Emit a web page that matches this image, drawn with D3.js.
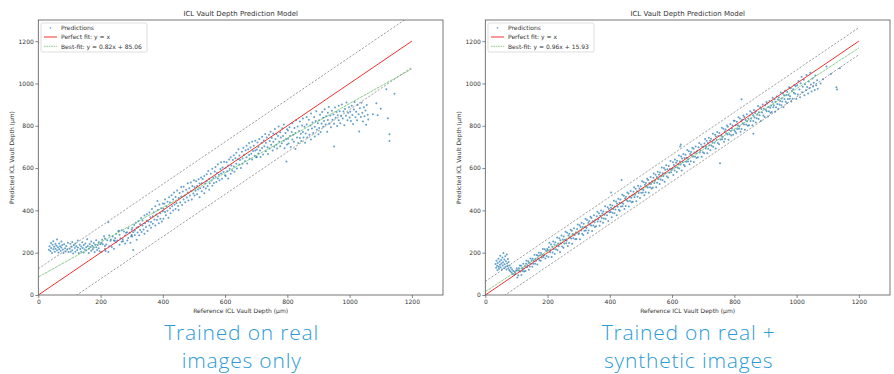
<!DOCTYPE html>
<html>
<head>
<meta charset="utf-8">
<script src="https://cdn.jsdelivr.net/npm/d3@7"></script>
<style>
  body { margin: 0; background: #fff; }
  svg { display: block; }
</style>
</head>
<body>
<svg id="chart" width="894" height="374"></svg>
<script>
// ---- data ----
const xTicks = [0, 200, 400, 600, 800, 1000, 1200];
const yTicks = [0, 200, 400, 600, 800, 1000, 1200];
const panelTitle = "ICL Vault Depth Prediction Model";
const xLabel = "Reference ICL Vault Depth (\u03bcm)";
const yLabel = "Predicted ICL Vault Depth (\u03bcm)";
const legendLabels = ["Predictions", "Perfect fit: y = x", "Best-fit: y = 0.82x + 85.06", "Best-fit: y = 0.96x + 15.93"];
const fitSlope = [0.82, 0.96];
const fitIntercept = [85.06, 15.93];
const bandOffset = [124, 64];   // grey dashed lines: y = x +/- offset
const lineRange = [0, 1200];
const captions = [["Trained on real", "images only"], ["Trained on real +", "synthetic images"]];

// left panel: trained on real images only
const realOnly = [
[34,214],[36,231],[39,208],[41,246],[41,222],[44,199],[46,237],[48,216],[48,254],[51,228],[53,205],[55,241],[55,219],[58,233],[60,212],[60,262],[63,226],[65,201],[67,244],[67,218],[70,230],[72,209],[74,253],[74,224],[77,236],[79,215],[81,198],[83,240],[86,221],[88,206],[90,232],[93,215],[95,247],[97,203],
[101,219],[103,242],[104,204],[107,228],[109,251],[109,212],[112,196],[114,235],[117,222],[119,205],[119,244],[122,230],[125,213],[127,258],[127,225],[130,199],[133,238],[135,217],[138,229],[138,205],[141,249],[143,222],[146,236],[146,201],[149,215],[151,243],[154,226],[154,210],[157,264],[159,232],[162,219],[162,198],[165,241],[167,227],[170,209],[170,253],[173,233],[175,216],[178,246],[178,224],[181,203],[183,238],[186,226],[186,259],[189,213],[191,236],[194,221],[194,249],[197,207],[199,240],
[203,246],[203,203],[207,240],[211,278],[214,232],[214,218],[214,267],[218,239],[221,259],[225,203],[225,344],[228,281],[228,231],[232,257],[236,227],[239,276],[243,258],[243,219],[247,268],[250,290],[250,249],[254,258],[257,301],[261,238],[261,285],[264,268],[268,252],[268,306],[271,264],[275,300],[279,243],[279,281],[282,294],[286,258],[289,315],[289,270],[293,294],[296,247],[300,309],[300,284],[205,261],[216,208],[233,262],[246,257],[259,304],[272,254],[285,297],[298,278],
[302,318],[302,276],[305,297],[305,213],[308,331],[310,284],[310,305],[313,342],[316,261],[316,318],[319,296],[321,349],[321,322],[324,283],[327,335],[327,307],[330,364],[332,298],[335,328],[335,352],[338,310],[341,376],[341,289],[343,339],[346,321],[349,382],[349,352],[351,303],[354,347],[357,390],[357,329],[360,368],[362,318],[362,345],[365,406],[368,372],[368,337],[371,391],[373,357],[376,328],[376,419],[379,381],[381,354],[384,402],[384,371],[387,339],[389,428],[392,387],[392,361],[395,410],[397,348],[400,396],[400,432],[383,444],
[402,408],[402,360],[405,431],[407,392],[407,452],[410,377],[412,419],[415,441],[415,398],[418,365],[420,462],[423,410],[423,437],[425,386],[428,471],[430,419],[433,399],[433,452],[436,484],[438,428],[441,407],[441,463],[444,435],[446,494],[449,421],[451,458],[451,402],[454,482],[456,437],[459,511],[459,466],[462,425],[464,489],[467,452],[467,512],[470,470],[472,438],[475,498],[477,461],[480,528],[480,485],[482,447],[485,505],[487,470],[490,532],[490,491],[493,452],[495,515],[498,480],[500,543],
[502,470],[502,511],[505,493],[507,538],[510,476],[510,515],[513,499],[515,547],[518,462],[518,527],[520,505],[523,556],[525,490],[525,528],[528,548],[531,511],[533,481],[533,562],[536,527],[538,503],[541,571],[541,539],[544,515],[546,586],[549,548],[549,497],[551,528],[554,573],[556,541],[559,516],[559,597],[562,553],[564,530],[567,584],[569,605],[569,560],[572,534],[574,577],[577,551],[577,618],[580,568],[582,542],[585,596],[587,627],[587,574],[590,550],[592,603],[595,581],[597,630],[600,566],
[602,601],[602,563],[605,628],[607,585],[610,612],[610,551],[613,640],[615,597],[618,573],[618,651],[620,612],[623,588],[625,638],[628,661],[628,608],[630,583],[633,647],[636,620],[636,672],[638,598],[641,642],[643,689],[646,617],[646,659],[648,638],[651,600],[654,677],[656,645],[656,620],[659,696],[661,663],[664,632],[666,684],[669,706],[669,651],[671,622],[674,689],[677,662],[677,718],[679,644],[682,697],[684,668],[687,725],[687,640],[690,681],[692,705],[695,658],[697,729],[697,683],[700,651],
[702,688],[702,652],[704,721],[707,669],[707,700],[710,738],[712,683],[714,652],[717,718],[719,695],[719,748],[722,664],[724,730],[726,703],[729,761],[731,680],[731,720],[734,745],[736,698],[738,667],[741,757],[743,728],[743,693],[746,772],[748,710],[750,742],[753,683],[755,764],[755,725],[758,701],[760,785],[762,738],[765,710],[765,761],[767,693],[770,752],[772,796],[774,724],[777,769],[777,703],[779,745],[782,717],[784,788],[786,752],[789,729],[789,806],[791,694],[794,766],[796,738],[797,631],[799,783],[799,712],
[802,739],[802,778],[804,716],[807,793],[809,752],[811,700],[814,771],[816,735],[816,812],[819,758],[821,725],[823,789],[826,690],[826,766],[828,826],[831,744],[833,797],[835,719],[838,775],[840,742],[840,820],[843,762],[845,728],[847,801],[850,834],[850,771],[852,745],[855,795],[857,720],[859,764],[862,842],[862,806],[864,744],[867,781],[869,828],[871,758],[874,801],[876,735],[876,858],[879,787],[881,815],[883,766],[886,842],[888,795],[888,749],[891,823],[893,869],[895,781],[898,812],[900,760],
[902,826],[902,789],[905,852],[907,770],[910,811],[912,865],[915,838],[915,795],[918,822],[920,878],[923,806],[925,845],[928,772],[930,862],[930,827],[933,889],[935,811],[938,848],[940,793],[943,871],[945,829],[948,853],[950,702],[950,810],[953,886],[955,838],[958,865],[960,799],[962,850],[965,895],[965,826],[968,869],[970,812],[973,846],[975,901],[978,834],[980,868],[983,803],[985,879],[988,847],[990,910],[993,826],[995,862],[998,888],[1000,839],
[1002,866],[1004,823],[1007,895],[1009,851],[1011,808],[1014,877],[1016,912],[1019,840],[1021,866],[1024,826],[1026,898],[1029,854],[1031,773],[1033,883],[1036,842],[1038,909],[1041,861],[1043,820],[1046,887],[1048,845],[1051,872],[1053,805],[1055,898],[1058,852],[1060,830],
[1075,855],[1086,907],[1090,850],[1100,880],[1118,973],[1123,836],[1128,760],[1128,728],[1144,951]
];

// right panel: trained on real + synthetic images
const realPlusSynthetic = [
[33,146],[35,129],[36,162],[38,138],[39,117],[40,151],[42,171],[43,134],[44,124],[46,158],[47,143],[48,186],[49,131],[51,165],[52,149],[53,120],[55,177],[56,139],[57,155],[58,198],[60,127],[61,168],[62,145],[64,183],[65,134],[66,159],[68,121],[69,192],[70,149],[71,137],[73,170],[74,126],[75,156],[77,118],[78,140],[80,112],[82,129],[84,106],[86,121],[88,100],[90,113],[93,96],[95,109],[97,102],[99,116],
[101,126],[103,83],[104,117],[106,93],[108,126],[109,113],[111,140],[113,111],[115,138],[116,94],[118,127],[120,114],[122,148],[123,125],[125,111],[127,136],[129,114],[131,148],[132,162],[134,131],[136,140],[138,160],[140,119],[141,152],[143,135],[145,172],[147,148],[149,163],[151,133],[152,171],[154,148],[156,161],[158,190],[160,148],[161,171],[163,162],[165,189],[167,144],[169,185],[170,173],[172,200],[174,164],[176,188],[178,162],[179,199],[181,177],[183,190],[185,217],[187,180],[189,189],[191,216],[193,173],[195,208],[197,184],[199,217],
[201,211],[203,180],[204,226],[206,247],[208,202],[209,212],[211,239],[213,180],[215,228],[216,201],[218,253],[220,218],[222,239],[223,194],[225,249],[227,216],[229,233],[231,272],[232,211],[234,244],[236,230],[238,268],[240,203],[241,259],[243,243],[245,281],[247,229],[249,262],[251,223],[252,276],[254,243],[256,261],[258,299],[260,245],[261,256],[263,294],[265,232],[267,281],[269,246],[270,290],[272,272],[274,309],[276,267],[278,304],[279,242],[281,288],[283,268],[285,316],[287,284],[289,263],[291,296],[293,265],[295,312],[297,333],[299,288],
[301,292],[303,330],[304,264],[306,321],[308,305],[309,342],[311,289],[313,322],[315,284],[316,337],[318,304],[320,322],[322,360],[323,305],[325,317],[327,355],[329,293],[331,341],[332,305],[334,350],[336,333],[338,370],[340,328],[341,364],[343,303],[345,349],[347,329],[349,377],[351,344],[352,322],[354,356],[356,325],[358,372],[360,393],[361,347],[363,358],[365,386],[367,327],[369,375],[370,348],[372,399],[374,364],[376,385],[378,341],[379,395],[381,362],[383,379],[385,419],[387,359],[389,392],[391,377],[393,415],[395,350],[397,407],[399,391],
[401,427],[403,392],[404,412],[404,485],[406,368],[408,423],[409,389],[411,406],[413,446],[415,386],[416,418],[418,404],[420,442],[422,377],[423,433],[425,417],[427,455],[429,403],[431,436],[432,397],[434,451],[436,418],[438,436],[438,544],[440,474],[441,419],[443,431],[445,469],[447,407],[449,456],[451,421],[452,465],[454,448],[456,485],[458,443],[460,480],[461,418],[463,464],[465,444],[467,492],[469,460],[470,438],[472,472],[474,441],[476,488],[478,509],[479,463],[481,474],[483,502],[485,443],[487,491],[489,465],[491,517],[493,482],[495,503],[497,459],[499,514],
[501,483],[503,501],[504,538],[506,484],[508,496],[509,533],[511,472],[513,521],[515,486],[516,530],[518,513],[520,550],[522,508],[523,544],[525,483],[527,529],[529,509],[531,558],[532,525],[534,504],[536,538],[538,507],[540,554],[541,574],[543,529],[545,540],[547,568],[549,509],[551,558],[552,531],[554,583],[556,548],[558,569],[560,525],[561,579],[563,546],[565,563],[567,603],[569,543],[570,576],[572,562],[574,600],[576,535],[578,592],[579,575],[581,613],[583,561],[585,594],[587,556],[589,610],[591,578],[593,596],[595,634],[597,580],[599,592],
[601,599],[603,627],[604,567],[606,615],[608,589],[609,640],[611,604],[613,625],[615,581],[616,635],[618,602],[620,619],[622,659],[623,598],[625,631],[626,702],[627,617],[628,712],[629,655],[631,589],[632,645],[634,629],[636,667],[638,615],[640,648],[641,609],[643,663],[645,630],[647,648],[649,686],[651,631],[652,642],[654,680],[656,618],[658,667],[660,632],[661,676],[663,659],[665,696],[667,654],[669,691],[670,629],[672,674],[674,654],[676,702],[678,670],[679,648],[681,682],[683,651],[685,698],[687,719],[689,674],[691,684],[693,712],[695,653],[697,701],[699,675],
[701,701],[703,670],[704,716],[706,737],[708,692],[709,702],[711,729],[713,670],[715,718],[716,691],[718,743],[720,708],[722,729],[723,684],[725,739],[727,706],[729,723],[731,762],[732,701],[734,734],[736,720],[738,758],[740,693],[741,749],[743,733],[745,771],[747,719],[749,752],[751,713],[752,766],[754,623],[756,735],[758,753],[760,791],[761,736],[763,748],[765,786],[767,724],[769,773],[770,737],[772,782],[774,765],[776,801],[778,759],[779,795],[781,734],[783,780],[785,760],[787,808],[789,776],[790,754],[792,787],[794,801],[796,758],[798,824],[800,779],
[801,824],[803,772],[804,803],[806,765],[808,819],[809,785],[811,802],[813,840],[815,786],[816,797],[818,834],[820,772],[822,821],[823,785],[823,925],[825,829],[827,812],[829,849],[831,806],[832,842],[834,781],[836,827],[838,806],[840,854],[841,821],[843,800],[845,833],[847,802],[849,849],[851,869],[852,823],[854,834],[856,862],[858,802],[860,850],[861,823],[861,762],[863,875],[865,839],[867,860],[869,816],[870,870],[872,836],[874,853],[876,893],[878,832],[879,864],[881,850],[883,888],[885,822],[887,879],[889,863],[891,900],[893,848],[895,881],[897,842],[899,896],
[901,875],[903,912],[904,869],[906,905],[908,844],[909,889],[911,869],[913,917],[915,885],[916,862],[918,896],[920,865],[922,912],[923,932],[925,887],[927,897],[929,925],[931,866],[932,913],[934,887],[936,938],[938,903],[940,924],[941,879],[943,934],[945,901],[947,917],[949,957],[951,897],[952,929],[954,915],[956,952],[958,887],[960,944],[961,927],[963,965],[965,913],[967,945],[969,907],[970,960],[972,927],[974,945],[976,982],[978,928],[979,939],[981,977],[983,915],[985,964],[987,928],[989,973],[991,956],[993,993],[995,951],[997,987],[999,926],
[1002,991],[1004,948],[1006,1012],[1009,972],[1011,935],[1013,1001],[1016,1032],[1018,958],[1020,985],[1023,1018],[1025,944],[1027,996],[1030,968],[1032,1040],[1034,983],[1037,952],[1039,1009],[1041,977],[1044,1051],[1046,995],[1048,962],[1051,1024],[1053,986],[1055,1003],[1058,969],[1060,1038],[1063,992],[1066,1015],[1068,975],
[1077,1000],[1085,1020],[1096,1080],[1110,1045],[1128,982],[1130,972],[1139,1072]
];

// ---- drawing ----
const svg = d3.select("#chart");
const panelWidth = 447;
const plot = { left: 38.3, right: 443, top: 20, bottom: 295 };
const font = "'DejaVu Sans', sans-serif";
const panels = [realOnly, realPlusSynthetic];

const defs = svg.append("defs");

panels.forEach((points, i) => {
  const g = svg.append("g").attr("transform", "translate(" + (i * panelWidth) + ",0)");

  const x = d3.scaleLinear().domain([0, 1300]).range([plot.left, plot.right]);
  const y = d3.scaleLinear().domain([0, 1300]).range([plot.bottom, plot.top]);

  defs.append("clipPath").attr("id", "clip" + i)
    .append("rect")
    .attr("x", plot.left).attr("y", plot.top)
    .attr("width", plot.right - plot.left)
    .attr("height", plot.bottom - plot.top);

  const inner = g.append("g").attr("clip-path", "url(#clip" + i + ")");

  // scatter
  inner.selectAll("circle")
    .data(points)
    .enter()
    .append("circle")
    .attr("cx", d => x(d[0]))
    .attr("cy", d => y(d[1]))
    .attr("r", 1)
    .attr("fill", "#1f77b4")
    .attr("opacity", 0.7);

  const line = d3.line().x(d => x(d[0])).y(d => y(d[1]));

  // grey dashed band lines
  [1, -1].forEach(sign => {
    inner.append("path")
      .datum(lineRange.map(v => [v, v + sign * bandOffset[i]]))
      .attr("d", line)
      .attr("fill", "none")
      .attr("stroke", "#777")
      .attr("stroke-width", 0.7)
      .attr("stroke-dasharray", "2.2,1.6");
  });

  // best fit
  inner.append("path")
    .datum(lineRange.map(v => [v, fitSlope[i] * v + fitIntercept[i]]))
    .attr("d", line)
    .attr("fill", "none")
    .attr("stroke", "#6fbf6f")
    .attr("stroke-width", 0.8)
    .attr("stroke-dasharray", "3,0.8");

  // perfect fit
  inner.append("path")
    .datum(lineRange.map(v => [v, v]))
    .attr("d", line)
    .attr("fill", "none")
    .attr("stroke", "#f03030")
    .attr("stroke-width", 1);

  // frame
  g.append("rect")
    .attr("x", plot.left).attr("y", plot.top)
    .attr("width", plot.right - plot.left)
    .attr("height", plot.bottom - plot.top)
    .attr("fill", "none")
    .attr("stroke", "#555")
    .attr("stroke-width", 0.8);

  // axes
  const xAxis = g.append("g")
    .attr("transform", "translate(0," + plot.bottom + ")")
    .call(d3.axisBottom(x).tickValues(xTicks).tickFormat(d3.format("d")).tickSize(3).tickPadding(2));
  const yAxis = g.append("g")
    .attr("transform", "translate(" + plot.left + ",0)")
    .call(d3.axisLeft(y).tickValues(yTicks).tickFormat(d3.format("d")).tickSize(3).tickPadding(1.5));
  [xAxis, yAxis].forEach(a => {
    a.select(".domain").remove();
    a.selectAll("line").attr("stroke", "#555").attr("stroke-width", 0.7);
    a.selectAll("text").attr("font-family", font).attr("font-size", 6).attr("fill", "#333");
  });

  // title and labels
  g.append("text")
    .attr("x", (plot.left + plot.right) / 2).attr("y", 15.5)
    .attr("text-anchor", "middle")
    .attr("font-family", font).attr("font-size", 7).attr("fill", "#333")
    .text(panelTitle);

  g.append("text")
    .attr("x", (plot.left + plot.right) / 2).attr("y", 313)
    .attr("text-anchor", "middle")
    .attr("font-family", font).attr("font-size", 6).attr("fill", "#333")
    .text(xLabel);

  g.append("text")
    .attr("transform", "translate(14," + ((plot.top + plot.bottom) / 2) + ") rotate(-90)")
    .attr("text-anchor", "middle")
    .attr("font-family", font).attr("font-size", 6).attr("fill", "#333")
    .text(yLabel);

  // legend
  const lg = g.append("g");
  lg.append("rect")
    .attr("x", 41).attr("y", 23).attr("width", 106).attr("height", 29).attr("rx", 1.5)
    .attr("fill", "#fff").attr("fill-opacity", 0.8)
    .attr("stroke", "#d0d0d0").attr("stroke-width", 0.7);
  lg.append("circle")
    .attr("cx", 50.5).attr("cy", 27.8).attr("r", 0.85)
    .attr("fill", "#1f77b4").attr("opacity", 0.6);
  lg.append("line")
    .attr("x1", 44).attr("x2", 57).attr("y1", 37).attr("y2", 37)
    .attr("stroke", "#f03030").attr("stroke-width", 1);
  lg.append("line")
    .attr("x1", 44).attr("x2", 57).attr("y1", 46.3).attr("y2", 46.3)
    .attr("stroke", "#6fbf6f").attr("stroke-width", 0.8).attr("stroke-dasharray", "1.6,0.8");
  const labels = [legendLabels[0], legendLabels[1], legendLabels[2 + i]];
  labels.forEach((t, k) => {
    lg.append("text")
      .attr("x", 61).attr("y", 30 + k * 9.3)
      .attr("font-family", font).attr("font-size", 6).attr("fill", "#333")
      .text(t);
  });

  // caption, two lines
  const cx = (plot.left + plot.right) / 2 + 1;
  captions[i].forEach((t, k) => {
    g.append("text")
      .attr("x", cx)
      .attr("y", 339.5 + k * 28.5)
      .attr("text-anchor", "middle")
      .attr("font-family", "'Open Sans', Lato, sans-serif")
      .attr("font-weight", 300)
      .attr("font-size", 21)
      .attr("letter-spacing", 0.8)
      .attr("fill", "#2e9bd6")
      .text(t);
  });
});
</script>
</body>
</html>
